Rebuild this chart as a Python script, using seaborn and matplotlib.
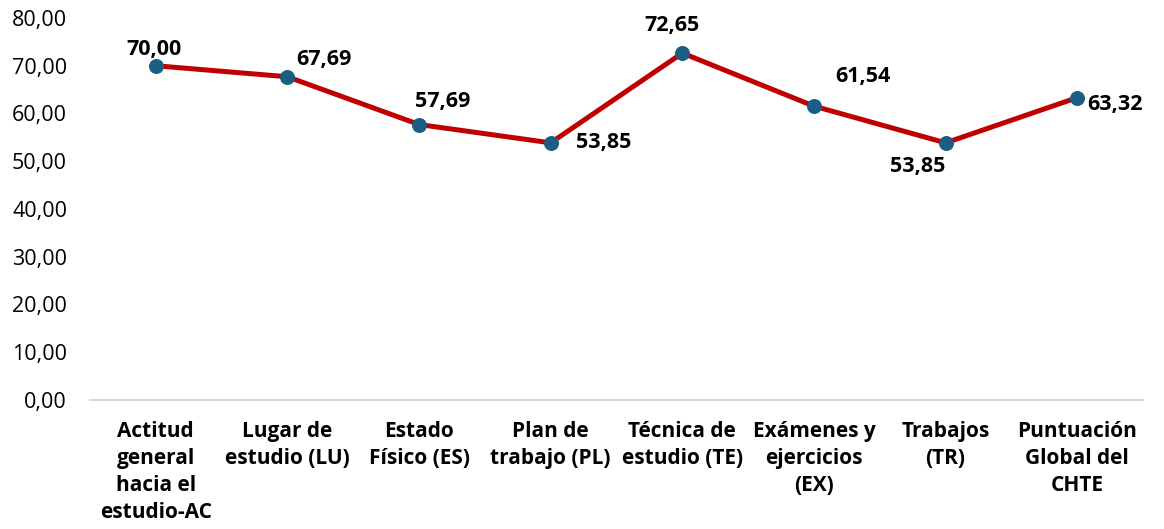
import matplotlib
matplotlib.use("Agg")
import matplotlib.pyplot as plt
import pandas as pd
import seaborn as sns
from matplotlib.ticker import FuncFormatter

categories = [
    "Actitud\ngeneral\nhacia el\nestudio-AC",
    "Lugar de\nestudio (LU)",
    "Estado\nFísico (ES)",
    "Plan de\ntrabajo (PL)",
    "Técnica de\nestudio (TE)",
    "Exámenes y\nejercicios\n(EX)",
    "Trabajos\n(TR)",
    "Puntuación\nGlobal del\nCHTE",
]
scores = [70.00, 67.69, 57.69, 53.85, 72.65, 61.54, 53.85, 63.32]

# label offsets in pixels, hand-placed like the original
label_offsets = [(-2, 16), (37, 17), (24, 23), (53, 0), (-10, 28), (49, 30), (-28, -24), (38, -7)]


def fmt(v):
    return f"{v:.2f}".replace(".", ",")


sns.set_theme(style="white")
plt.rcParams["font.family"] = ["Open Sans", "DejaVu Sans"]

df = pd.DataFrame({"cat": categories, "score": scores})

fig = plt.figure(figsize=(11.64, 5.29), dpi=100)
ax = fig.add_axes([0.0773, 0.2439, 0.9047, 0.7221])

sns.lineplot(
    data=df, x="cat", y="score", sort=False, ax=ax,
    color="#C00000", linewidth=3.6,
    marker="o", markersize=10, markerfacecolor="#1B5E84", markeredgecolor="#1B5E84",
)

for i, (v, off) in enumerate(zip(scores, label_offsets)):
    ax.annotate(fmt(v), (i, v), xytext=off, textcoords="offset pixels",
                ha="center", va="center", fontsize=15.5, fontweight="bold", color="black")

ax.set_ylim(0, 80)
ax.set_xlim(-0.5, len(categories) - 0.5)
ax.set_yticks(range(0, 81, 10))
ax.yaxis.set_major_formatter(FuncFormatter(lambda v, _: fmt(v)))
ax.set_xlabel("")
ax.set_ylabel("")

for side in ["top", "right", "left"]:
    ax.spines[side].set_visible(False)
ax.spines["bottom"].set_color("#D9D9D9")
ax.spines["bottom"].set_linewidth(1.5)

ax.tick_params(axis="y", length=0, pad=16.5, labelsize=15.5, labelcolor="black")
ax.tick_params(axis="x", length=0, pad=15, labelsize=15, labelcolor="black")
for lbl in ax.get_xticklabels():
    lbl.set_fontweight("bold")
    lbl.set_linespacing(1.38)
    lbl.set_verticalalignment("top")

fig.savefig("out.png", dpi=100)
